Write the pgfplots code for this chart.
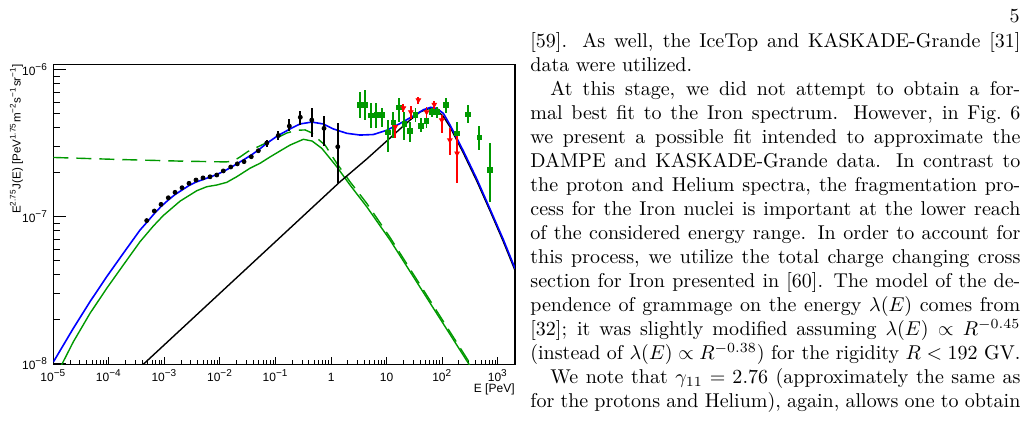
\documentclass[border=0pt]{standalone}
\usepackage{fontspec}
\usepackage{pgfplots}
\usepackage{pgfplotstable}
\pgfplotsset{compat=1.18}
\newfontfamily\arial{Liberation Sans}
\definecolor{rgreen}{rgb}{0,0.6,0}
\definecolor{rblue}{rgb}{0,0,1}
\definecolor{rred}{rgb}{1,0,0}

\pgfplotstableread{
E y
1e-5 1.02e-8
2.29e-5 1.73e-8
4.58e-5 2.63e-8
9.15e-5 3.89e-8
1.82e-4 5.61e-8
3.64e-4 8.08e-8
4.80e-4 9.09e-8
6.58e-4 1.046e-7
8.69e-4 1.168e-7
1.175e-3 1.293e-7
1.552e-3 1.409e-7
2.074e-3 1.512e-7
2.77e-3 1.623e-7
3.71e-3 1.714e-7
4.95e-3 1.783e-7
6.62e-3 1.854e-7
8.74e-3 1.929e-7
1.149e-2 2.022e-7
1.561e-2 2.152e-7
2.052e-2 2.29e-7
2.71e-2 2.44e-7
3.67e-2 2.62e-7
4.90e-2 2.83e-7
6.94e-2 3.14e-7
0.1077 3.53e-7
0.1824 3.94e-7
0.276 4.26e-7
0.448 4.39e-7
0.725 4.26e-7
1.098 3.94e-7
1.913 3.68e-7
3.32 3.58e-7
5.76 3.61e-7
10.04 3.86e-7
17.4 4.29e-7
30.2 4.83e-7
45.8 5.32e-7
61.7 5.53e-7
79.8 5.43e-7
104.9 5.03e-7
138.4 4.19e-7
240 2.79e-7
419 1.80e-7
727 1.12e-7
1246 7.02e-8
2048 4.42e-8
}\bluecurve

\pgfplotstableread{
E y
3.5e-4 0.927e-8
4.17e-4 0.985e-8
1.449 1.722e-7
4.38 2.46e-7
8.72 3.11e-7
17.4 3.94e-7
26.4 4.53e-7
39.9 5.14e-7
55.6 5.40e-7
68.4 5.38e-7
84.2 5.18e-7
104.9 4.79e-7
138.4 4.06e-7
240 2.70e-7
419 1.74e-7
727 1.09e-7
1246 6.80e-8
2048 4.28e-8
}\blackcurve

\pgfplotstableread{
E y
1.32e-5 0.929e-8
2.29e-5 1.40e-8
4.58e-5 2.19e-8
9.15e-5 3.24e-8
1.82e-4 4.67e-8
3.64e-4 6.73e-8
6.31e-4 8.60e-8
9.55e-4 1.014e-7
1.909e-3 1.270e-7
3.82e-3 1.496e-7
5.77e-3 1.593e-7
8.74e-3 1.636e-7
1.323e-2 1.706e-7
2.00e-2 1.863e-7
3.48e-2 2.13e-7
5.26e-2 2.30e-7
7.96e-2 2.54e-7
0.1205 2.79e-7
0.1824 3.06e-7
0.3166 3.35e-7
0.454 3.26e-7
0.679 2.91e-7
1.264 2.18e-7
2.19 1.636e-7
4.38 1.164e-7
11.5 6.91e-8
304 0.985e-8
390 0.85e-8
}\greensolid

\pgfplotstableread{
E y
1e-5 2.52e-7
1.587e-4 2.44e-7
1.909e-3 2.38e-7
1.285e-2 2.35e-7
1.718e-2 2.38e-7
2.30e-2 2.54e-7
3.20e-2 2.77e-7
4.84e-2 2.98e-7
7.33e-2 3.21e-7
0.1064 3.43e-7
0.161 3.70e-7
0.244 3.86e-7
0.340 3.88e-7
0.454 3.70e-7
0.582 3.36e-7
0.778 3.06e-7
1.264 2.30e-7
2.19 1.722e-7
4.38 1.228e-7
11.5 7.19e-8
324 0.985e-8
415 0.85e-8
}\greendashed

\pgfplotstableread{
E y ep em
4.80e-4 9.37e-8 0.19e-8 0.19e-8
6.58e-4 1.089e-7 0.022e-7 0.022e-7
8.69e-4 1.208e-7 0.024e-7 0.024e-7
1.175e-3 1.340e-7 0.027e-7 0.027e-7
1.552e-3 1.459e-7 0.03e-7 0.03e-7
2.075e-3 1.568e-7 0.03e-7 0.03e-7
2.77e-3 1.68e-7 0.034e-7 0.034e-7
3.71e-3 1.77e-7 0.035e-7 0.035e-7
4.95e-3 1.83e-7 0.037e-7 0.037e-7
6.62e-3 1.862e-7 0.037e-7 0.037e-7
8.75e-3 1.914e-7 0.04e-7 0.04e-7
1.148e-2 2.04e-7 0.04e-7 0.04e-7
1.56e-2 2.17e-7 0.045e-7 0.045e-7
2.05e-2 2.28e-7 0.05e-7 0.05e-7
2.71e-2 2.36e-7 0.05e-7 0.05e-7
3.66e-2 2.55e-7 0.06e-7 0.06e-7
4.90e-2 2.80e-7 0.07e-7 0.07e-7
6.95e-2 3.16e-7 0.17e-7 0.17e-7
0.112 3.556e-7 0.284e-7 0.246e-7
0.177 4.12e-7 0.45e-7 0.31e-7
0.279 4.73e-7 0.53e-7 0.51e-7
0.449 4.53e-7 0.94e-7 1.06e-7
0.746 3.98e-7 0.85e-7 0.97e-7
1.318 2.98e-7 1.32e-7 1.30e-7
}\blackdata

\pgfplotstableread{
E y ep em
3.32 5.73e-7 1.33e-7 1.08e-7
4.14 5.73e-7 1.52e-7 1.20e-7
5.24 4.85e-7 1.04e-7 0.87e-7
6.53 4.90e-7 0.99e-7 0.92e-7
8.17 4.90e-7 0.60e-7 0.82e-7
10.47 3.74e-7 0.79e-7 0.98e-7
13.2 4.37e-7 0.79e-7 0.97e-7
16.7 5.50e-7 0.87e-7 1.09e-7
20.6 4.26e-7 0.90e-7 0.95e-7
26.1 3.83e-7 0.58e-7 0.61e-7
32.9 4.90e-7 0.57e-7 0.51e-7
41.1 4.14e-7 0.51e-7 0.37e-7
51.9 4.46e-7 0.57e-7 0.48e-7
65.6 5.16e-7 0.28e-7 0.39e-7
81.8 5.14e-7 0.44e-7 0.49e-7
116 5.73e-7 0.70e-7 0.70e-7
183 3.68e-7 0.69e-7 0.85e-7
288 4.95e-7 0.78e-7 0.65e-7
461 3.45e-7 0.67e-7 0.62e-7
727 2.07e-7 1.07e-7 0.82e-7
}\greendata

\pgfplotstableread{
E y ep em
14.3 4.08e-7 0.45e-7 0.68e-7
20.0 5.47e-7 0.35e-7 0.37e-7
27.2 5.14e-7 0.50e-7 0.54e-7
37.2 6.20e-7 0.33e-7 0.40e-7
52.3 5.14e-7 0.44e-7 0.50e-7
71.9 5.78e-7 0.32e-7 0.48e-7
98.2 4.53e-7 0.37e-7 0.85e-7
137 3.31e-7 0.67e-7 0.69e-7
185 2.69e-7 1.08e-7 1.01e-7
}\reddata

\begin{document}
\begin{tikzpicture}
\useasboundingbox (0,0) rectangle (514.5pt,212pt);
\begin{axis}[
  at={(26.65pt,29.85pt)}, anchor=south west,
  scale only axis, width=230.85pt, height=149.8pt,
  xmode=log, ymode=log,
  xmin=1e-5, xmax=2040, ymin=0.985e-8, ymax=1.078e-6,
  axis line style={line width=0.6pt},
  tick align=inside, tick pos=left,
  major tick length=3.6pt, minor tick length=2pt,
  every tick/.style={black, line width=0.5pt},
  xtick={1e-5,1e-4,1e-3,1e-2,1e-1,1,10,100,1000},
  xticklabels={10\textsuperscript{−5},10\textsuperscript{−4},10\textsuperscript{−3},10\textsuperscript{−2},10\textsuperscript{−1},1,10,10\textsuperscript{2},10\textsuperscript{3}},
  ytick={1e-8,2e-8,3e-8,4e-8,5e-8,6e-8,7e-8,8e-8,9e-8,1e-7,2e-7,3e-7,4e-7,5e-7,6e-7,7e-7,8e-7,9e-7,1e-6},
  yticklabels={10\textsuperscript{−8},,,,,,,,,10\textsuperscript{−7},,,,,,,,,10\textsuperscript{−6}},
  extra y ticks={1e-8,1e-7,1e-6},
  extra y tick labels={,,},
  extra y tick style={major tick length=6.5pt},
  ticklabel style={font=\arial\fontsize{6}{7}\selectfont},
  xticklabel style={anchor=base, yshift=-8.6pt, inner sep=0pt},
  yticklabel style={anchor=east, inner sep=0pt, xshift=-2.5pt},
]
\addplot[rgreen, line width=0.7pt, dash pattern=on 7.5pt off 4pt] table[x=E,y=y] {\greendashed};
\addplot[rgreen, line width=0.7pt] table[x=E,y=y] {\greensolid};
\addplot[black, line width=0.7pt] table[x=E,y=y] {\blackcurve};
\addplot[rblue, line width=0.8pt] table[x=E,y=y] {\bluecurve};
\addplot[only marks, mark=*, mark size=1pt, black,
  error bars/.cd, y dir=both, y explicit, error mark=none,
  error bar style={line width=0.9pt, black}]
  table[x=E,y=y,y error plus=ep,y error minus=em] {\blackdata};
\addplot[only marks, mark=square*, mark size=1.1pt, rgreen,
  error bars/.cd, y dir=both, y explicit, error mark=none,
  error bar style={line width=0.9pt, rgreen}]
  table[x=E,y=y,y error plus=ep,y error minus=em] {\greendata};
\addplot[only marks, mark=triangle*, mark size=1.3pt, rred, mark options={rotate=180},
  error bars/.cd, y dir=both, y explicit, error mark=none,
  error bar style={line width=0.9pt, rred}]
  table[x=E,y=y,y error plus=ep,y error minus=em] {\reddata};
\end{axis}
\node[rotate=90, anchor=base east, inner sep=0pt, font=\arial\fontsize{5.8}{7}\selectfont] at (10.35pt,180.3pt)
  {E\textsuperscript{2.75}J(E) [PeV\textsuperscript{1.75}m\textsuperscript{−2}s\textsuperscript{−1}sr\textsuperscript{−1}]};
\node[anchor=base east, inner sep=0pt, font=\arial\fontsize{6}{7}\selectfont] at (257.5pt,15.8pt) {E [PeV]};
\node[anchor=base east, inner sep=0pt, font=\fontsize{10}{12}\selectfont] at (510pt,200.5pt) {5};
\node[anchor=base west, inner sep=0pt] at (265pt,188pt) {\parbox[t]{245pt}{\fontsize{10}{12}\selectfont\lineskiplimit=-5pt
\hbox to 245pt{[59]. As well, the IceTop and KASKADE-Grande [31]}
\hbox{data were utilized.}
\hbox to 245pt{\hspace*{10pt}At this stage, we did not attempt to obtain a for-}
\hbox to 245pt{mal best fit to the Iron spectrum. However, in Fig.~6}
\hbox to 245pt{we present a possible fit intended to approximate the}
\hbox to 245pt{DAMPE and KASKADE-Grande data. In contrast to}
\hbox to 245pt{the proton and Helium spectra, the fragmentation pro-}
\hbox to 245pt{cess for the Iron nuclei is important at the lower reach}
\hbox to 245pt{of the considered energy range. In order to account for}
\hbox to 245pt{this process, we utilize the total charge changing cross}
\hbox to 245pt{section for Iron presented in [60]. The model of the de-}
\hbox to 245pt{pendence of grammage on the energy $\lambda(E)$ comes from}
\hbox to 245pt{[32]; it was slightly modified assuming $\lambda(E)\propto R^{-0.45}$}
\hbox to 245pt{(instead of $\lambda(E)\propto R^{-0.38}$) for the rigidity $R<192$ GV.}
\hbox to 245pt{\hspace*{10pt}We note that $\gamma_{11}=2.76$ (approximately the same as}
\hbox to 245pt{for the protons and Helium), again, allows one to obtain}
}};
\end{tikzpicture}
\end{document}
